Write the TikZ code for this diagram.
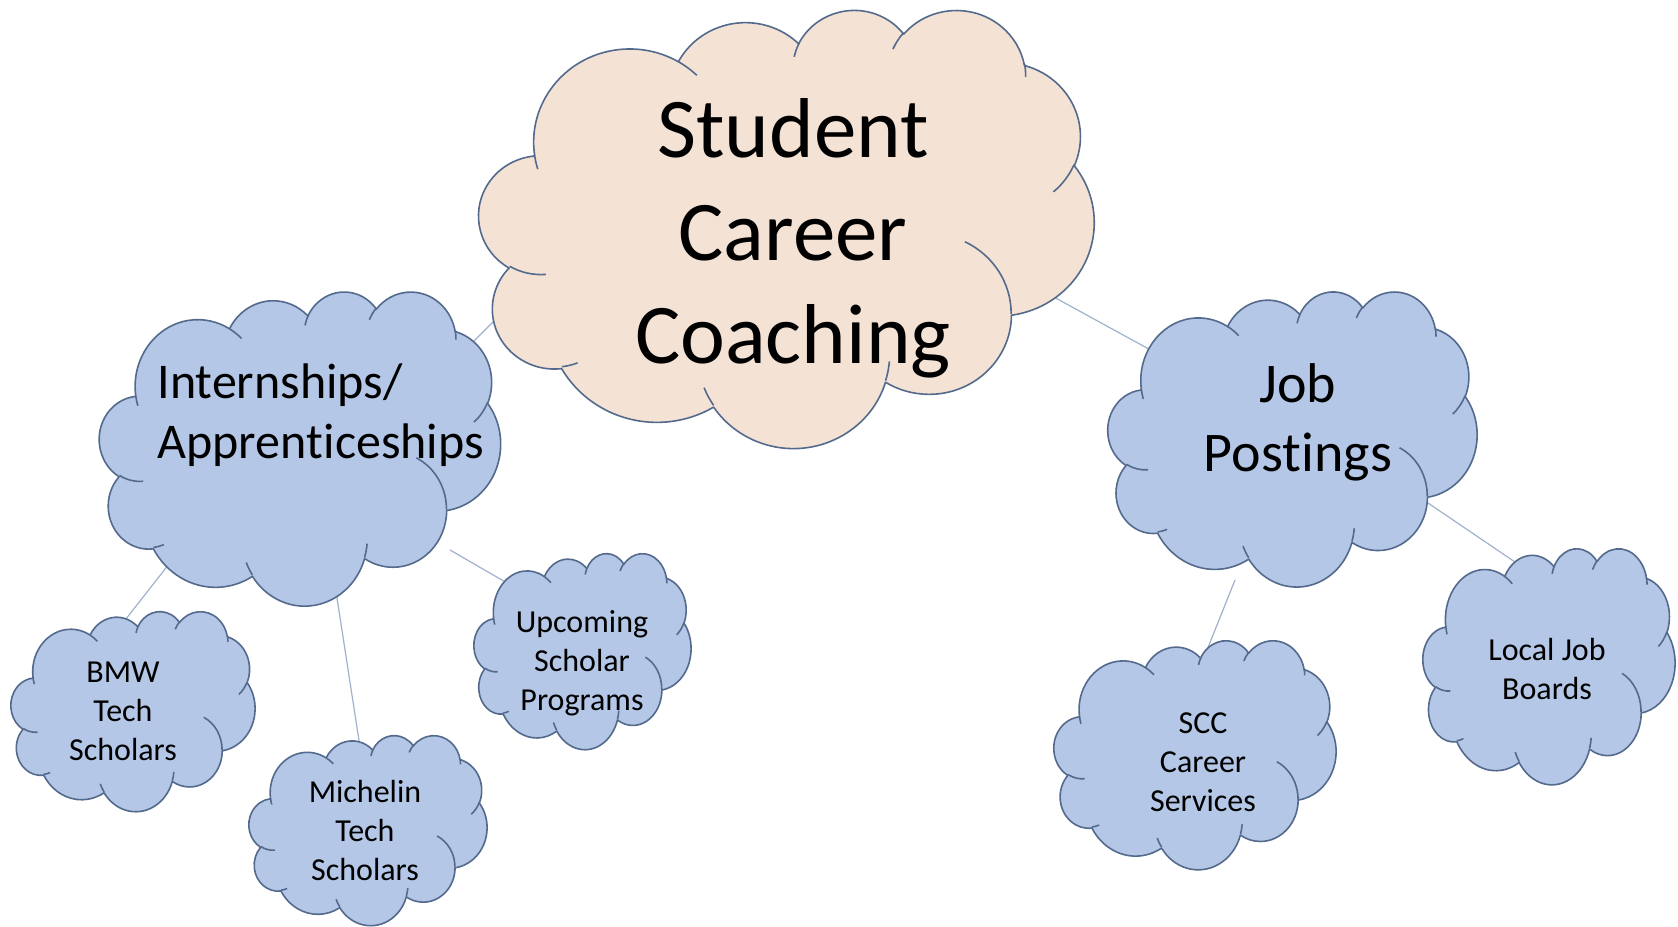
\documentclass[tikz,border=0pt]{standalone}
\usepackage{fontspec}
\setmainfont{Carlito}[Ligatures={NoCommon,NoContextual}]
\definecolor{edge}{RGB}{84,106,140}
\definecolor{blueF}{RGB}{180,199,231}
\definecolor{peachF}{RGB}{244,226,213}
\definecolor{conn}{RGB}{160,178,204}
% Office "cloud" preset: convert OOXML visual angles into parametric ones
\newcommand\ooang[5]{%
  \pgfmathsetmacro\ootmpS{atan2((#2)*sin(#4),(#3)*cos(#4))}%
  \pgfmathsetmacro\ootmpE{atan2((#2)*sin((#4)+(#5)),(#3)*cos((#4)+(#5)))}%
  \pgfmathsetmacro\ootmpD{\ootmpE-\ootmpS}%
  \pgfmathsetmacro\ootmpD{\ootmpD-360*round((\ootmpD-(#5))/360)}%
  \expandafter\let\csname oos#1\endcsname\ootmpS
  \expandafter\let\csname ood#1\endcsname\ootmpD}
\ooang{A}{6.753}{9.190}{-190.4875}{123.7805}
\ooang{B}{5.333}{7.267}{-144.1024}{89.9452}
\ooang{C}{4.365}{5.945}{-145.8079}{99.7230}
\ooang{D}{4.857}{6.595}{-130.9861}{117.2417}
\ooang{E}{5.333}{7.273}{-78.7089}{109.0269}
\ooang{F}{6.775}{9.220}{-46.2673}{130.2690}
\ooang{G}{5.785}{7.867}{0.6250}{114.0333}
\ooang{H}{6.752}{9.215}{22.4516}{115.1726}
\ooang{I}{7.720}{10.543}{66.2426}{75.7110}
\ooang{J}{4.360}{5.918}{-274.9421}{146.7356}
\ooang{K}{4.345}{5.945}{-246.8285}{152.5189}
\ooang{a}{4.345}{5.945}{86.7420}{26.4295}
\ooang{b}{4.360}{5.918}{73.6105}{11.4475}
\ooang{c}{6.752}{9.215}{137.6242}{14.0811}
\ooang{d}{6.752}{9.215}{6.4533}{15.9984}
\ooang{e}{5.785}{7.867}{-70.2924}{70.9174}
\ooang{f}{5.333}{7.273}{30.3180}{27.7515}
\ooang{g}{4.857}{6.595}{-13.7443}{14.8548}
\ooang{h}{4.857}{6.595}{-149.1815}{18.1947}
\ooang{i}{4.365}{5.945}{-163.4943}{17.6942}
\ooang{j}{6.753}{9.190}{-66.7070}{12.3194}
\ooang{k}{6.753}{9.190}{157.6544}{11.8582}
\tikzset{
  cloud fill/.store in=\cloudfillcolor, cloud fill=blueF,
  cloudline/.style={draw=edge,line width=0.8pt,line join=round},
  conline/.style={draw=conn,line width=0.6pt},
  lbl/.style={inner sep=0pt,align=center,text=black},
  t16/.style={lbl,font=\fontsize{16}{19.5}\selectfont},
  oocloud/.pic={
    \path[cloudline,fill=\cloudfillcolor]
      (3.900,14.370)
      arc[start angle=\oosA,delta angle=\oodA,x radius=6.753,y radius=9.190]
      arc[start angle=\oosB,delta angle=\oodB,x radius=5.333,y radius=7.267]
      arc[start angle=\oosC,delta angle=\oodC,x radius=4.365,y radius=5.945]
      arc[start angle=\oosD,delta angle=\oodD,x radius=4.857,y radius=6.595]
      arc[start angle=\oosE,delta angle=\oodE,x radius=5.333,y radius=7.273]
      arc[start angle=\oosF,delta angle=\oodF,x radius=6.775,y radius=9.220]
      arc[start angle=\oosG,delta angle=\oodG,x radius=5.785,y radius=7.867]
      arc[start angle=\oosH,delta angle=\oodH,x radius=6.752,y radius=9.215]
      arc[start angle=\oosI,delta angle=\oodI,x radius=7.720,y radius=10.543]
      arc[start angle=\oosJ,delta angle=\oodJ,x radius=4.360,y radius=5.918]
      arc[start angle=\oosK,delta angle=\oodK,x radius=4.345,y radius=5.945]
      -- cycle;
    \path[cloudline]
      (4.693,26.177) arc[start angle=\oosa,delta angle=\ooda,x radius=4.345,y radius=5.945]
      (6.928,34.899) arc[start angle=\oosb,delta angle=\oodb,x radius=4.360,y radius=5.918]
      (16.478,39.090) arc[start angle=\oosc,delta angle=\oodc,x radius=6.752,y radius=9.215]
      (28.827,34.751) arc[start angle=\oosd,delta angle=\oodd,x radius=6.752,y radius=9.215]
      (34.129,22.954) arc[start angle=\oose,delta angle=\oode,x radius=5.785,y radius=7.867]
      (41.798,15.354) arc[start angle=\oosf,delta angle=\oodf,x radius=5.333,y radius=7.273]
      (38.324,5.426) arc[start angle=\oosg,delta angle=\oodg,x radius=4.857,y radius=6.595]
      (29.078,3.952) arc[start angle=\oosh,delta angle=\oodh,x radius=4.857,y radius=6.595]
      (22.141,4.720) arc[start angle=\oosi,delta angle=\oodi,x radius=4.365,y radius=5.945]
      (14.000,5.192) arc[start angle=\oosj,delta angle=\oodj,x radius=6.753,y radius=9.190]
      (4.127,15.789) arc[start angle=\oosk,delta angle=\oodk,x radius=6.753,y radius=9.190];
  }
}
\begin{document}
\begin{tikzpicture}[x=0.5pt,y=-0.5pt]
\useasboundingbox[fill=white] (0,0) rectangle (1678,927);
\clip (0,0) rectangle (1678,927);
% connector end points
\coordinate (m1) at (462,353);  \coordinate (i1) at (498,317);
\coordinate (m2) at (1052,296); \coordinate (j1) at (1167,359);
\coordinate (i2) at (180,550);  \coordinate (b1) at (122,624);
\coordinate (i3) at (335,585);  \coordinate (mi1) at (362,760);
\coordinate (i4) at (450,550);  \coordinate (u1) at (533,598);
\coordinate (j2) at (1235,580); \coordinate (s1) at (1207,650);
\coordinate (j3) at (1428,503); \coordinate (l1) at (1543,581);
\draw[conline] (m1) -- (i1);
\draw[conline] (m2) -- (j1);
\draw[conline] (i2) -- (b1);
\draw[conline] (i3) -- (mi1);
\draw[conline] (i4) -- (u1);
\draw[conline] (j2) -- (s1);
\draw[conline] (j3) -- (l1);
% clouds (placed at the top-left corner of their boxes)
\pic[cloud fill=peachF, xscale=615/43.2, yscale=438/43.2] at (479,9) {oocloud};
\pic[xscale=401/43.2, yscale=314/43.2] at (99.5,291) {oocloud};
\pic[xscale=244/43.2, yscale=200/43.2] at (11,611) {oocloud};
\pic[xscale=238/43.2, yscale=190/43.2] at (249,735) {oocloud};
\pic[xscale=217/43.2, yscale=196/43.2] at (474,553) {oocloud};
\pic[xscale=369/43.2, yscale=295/43.2] at (1108,291) {oocloud};
\pic[xscale=282/43.2, yscale=229/43.2] at (1054,640) {oocloud};
\pic[xscale=252/43.2, yscale=236/43.2] at (1423,548) {oocloud};
% labels (base anchor = baseline of the last line)
\node[lbl, font=\fontsize{42.5}{51.5}\selectfont, anchor=base] (main) at (793,363) {Student\\Career\\Coaching};
\node[lbl, align=left, font=\fontsize{25}{30}\selectfont, anchor=base west] (intern) at (157,458) {Internships/\\Appren\kern0pt ticeships};
\node[lbl, font=\fontsize{28}{34.5}\selectfont, anchor=base] (job) at (1298,471) {Job\\Pos\kern0pt tings};
\node[t16, anchor=base] (bmw) at (123,760) {BMW\\Tech\\Scholars};
\node[t16, anchor=base] (mich) at (365,880) {Michelin\\Tech\\Scholars};
\node[t16, anchor=base] (upc) at (582,710) {Upcoming\\Scholar\\Programs};
\node[t16, anchor=base] (scc) at (1203,811) {SCC\\Career\\Services};
\node[t16, anchor=base] (local) at (1547,699) {Local Job\\Boards};
\end{tikzpicture}
\end{document}
